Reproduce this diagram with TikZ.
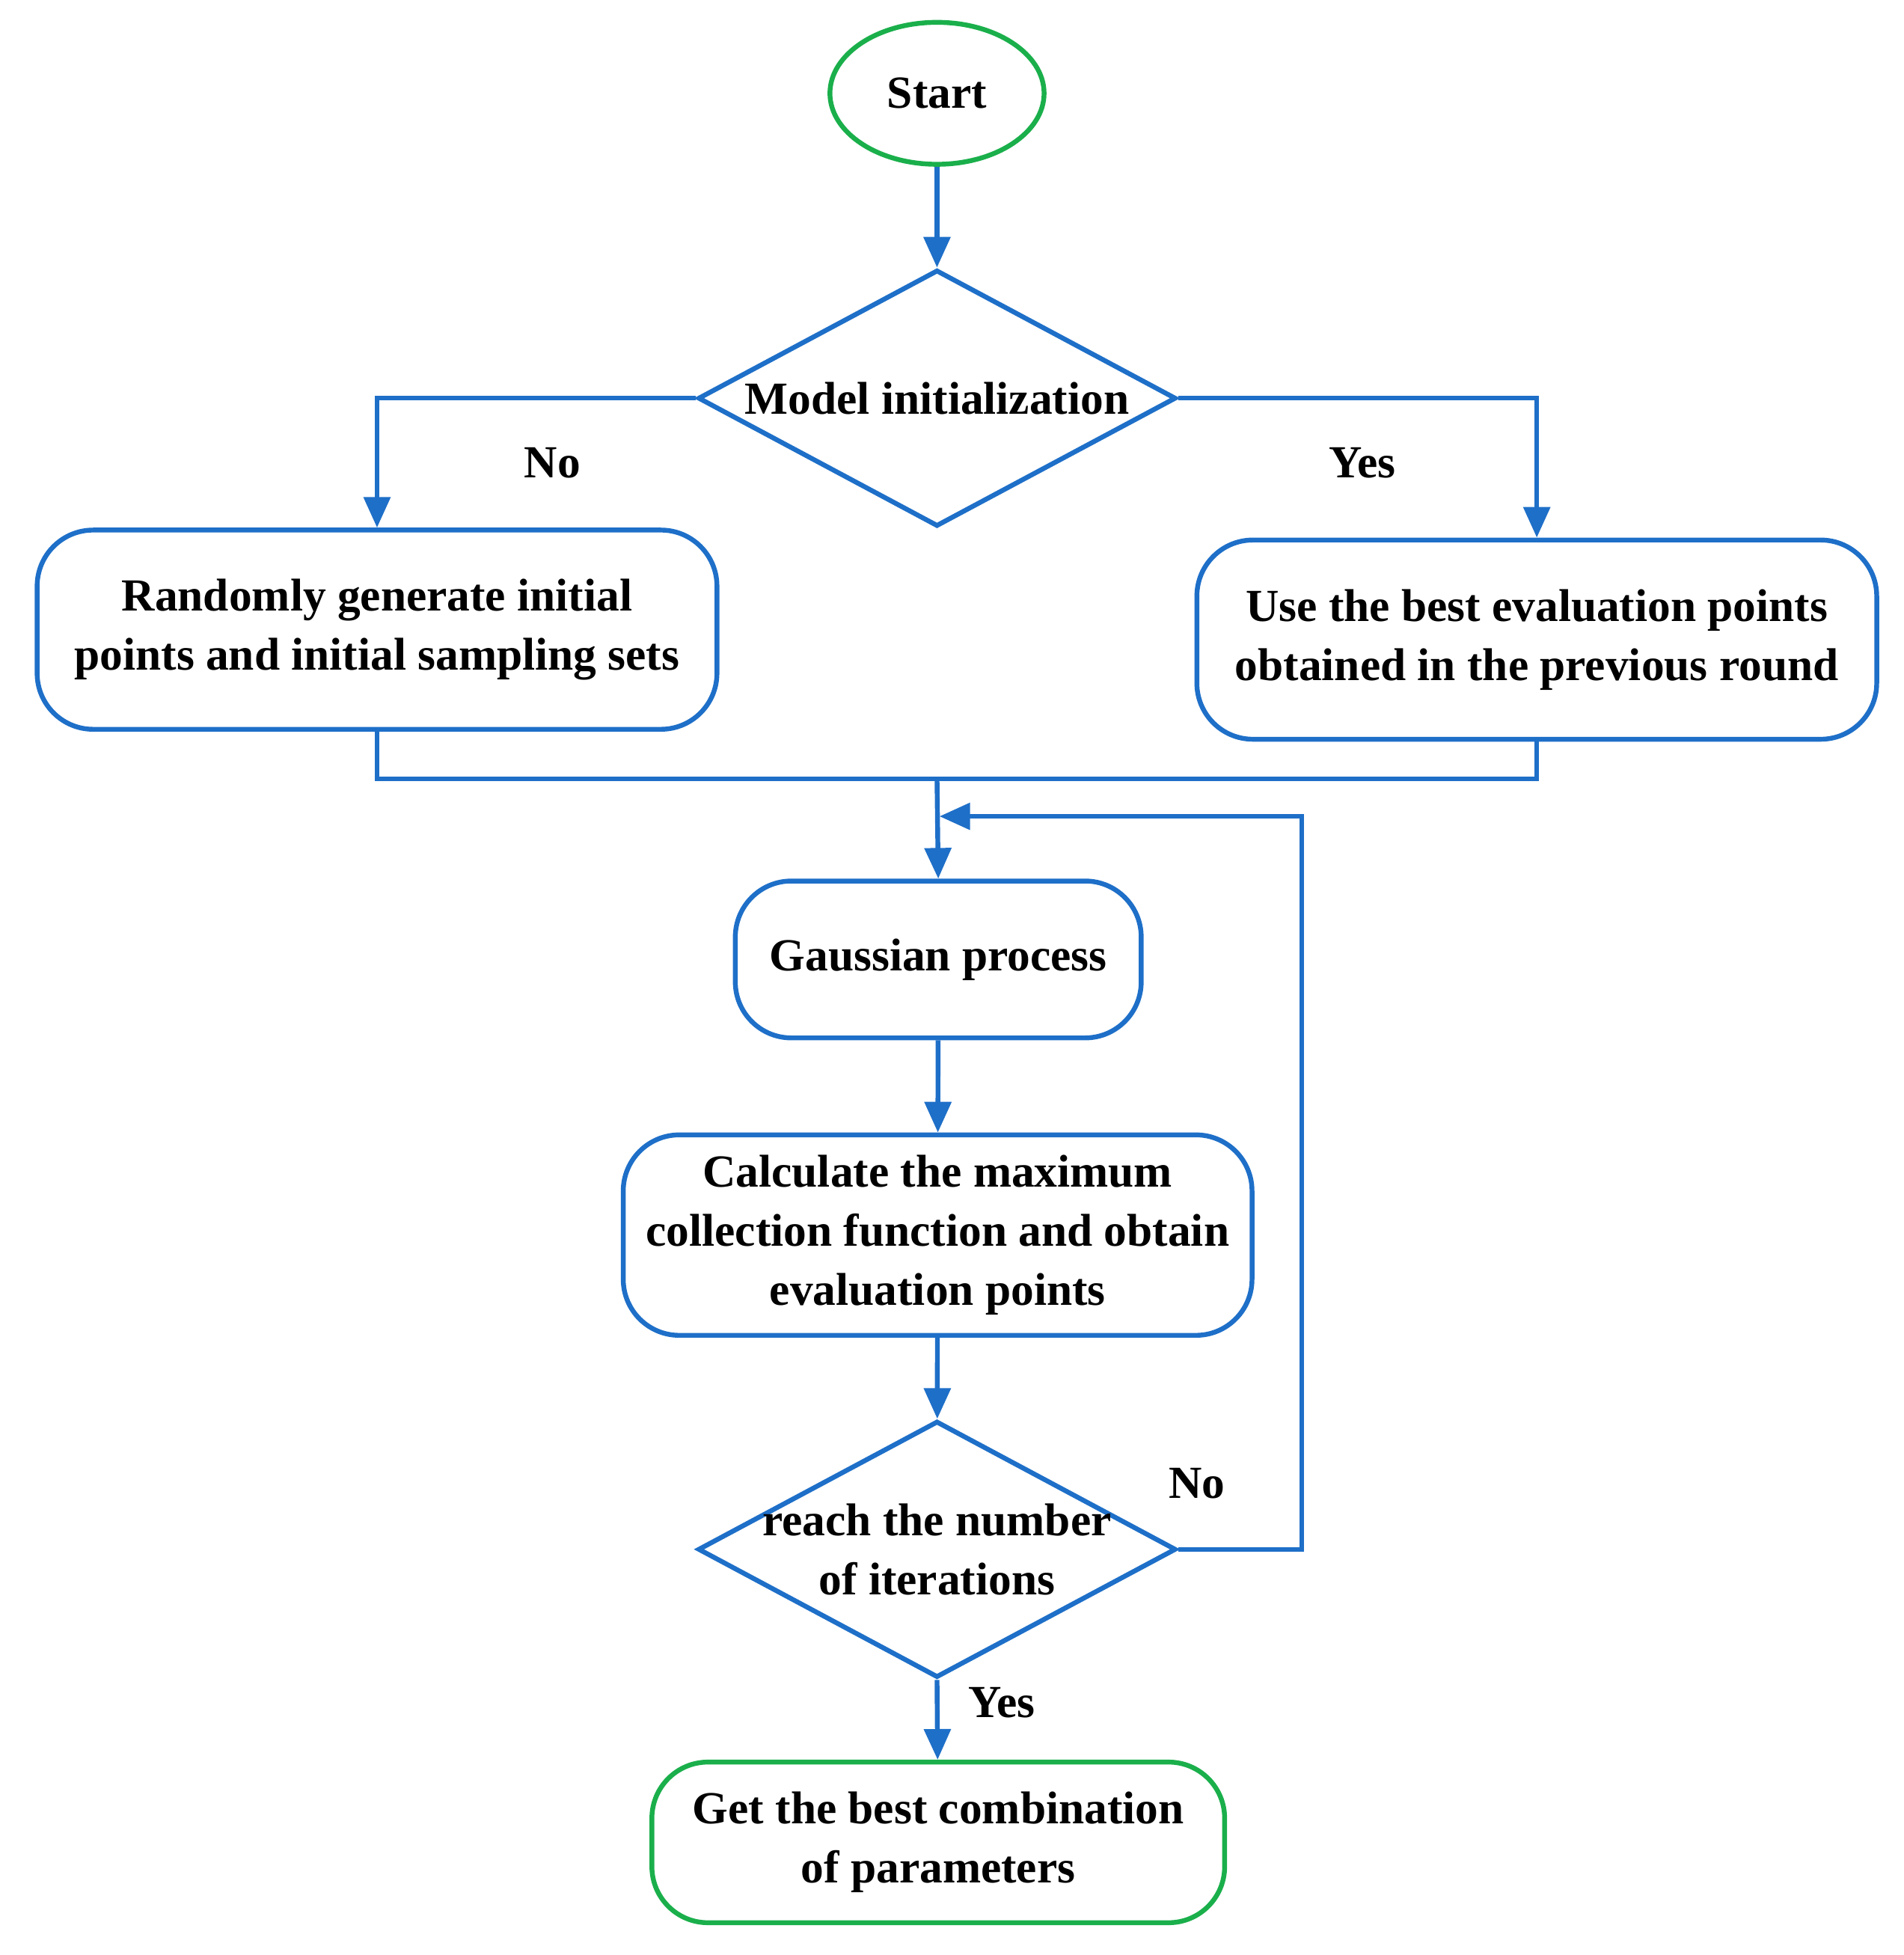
\documentclass[tikz,border=0pt]{standalone}
\usepackage{fontspec}
\setmainfont{Liberation Serif}
\usetikzlibrary{shapes.geometric,arrows.meta}
\definecolor{bl}{HTML}{1E6FC8}
\definecolor{gr}{HTML}{1AAF4B}
\begin{document}
\begin{tikzpicture}[x=0.01cm,y=-0.01cm,
 line width=1.1pt,
 every node/.style={font=\fontsize{10.5pt}{13.5pt}\selectfont\bfseries, align=center},
 box/.style={draw=bl, rounded corners=0.45cm, inner sep=0},
 gbox/.style={draw=gr, rounded corners=0.45cm, inner sep=0},
 dia/.style={draw=bl, diamond, inner sep=0, minimum width=3.84cm, minimum height=2.06cm},
 con/.style={draw=bl, -{Triangle[length=7pt,width=6pt]}},
 ln/.style={draw=bl}]
\useasboundingbox (0,0) rectangle (1530,1571);
\node[draw=gr, ellipse, minimum width=1.72cm, minimum height=1.14cm, inner sep=0] (start) at (753,75) {Start};
\node[dia] (d1) at (753,320) {};
\node at (d1) {Model initialization};
\node[box, minimum width=5.46cm, minimum height=1.6cm] (bl) at (303,506) {Randomly generate initial\\points and initial sampling sets};
\node[box, minimum width=5.46cm, minimum height=1.6cm] (br) at (1235,514) {Use the best evaluation points\\obtained in the previous round};
\node[box, minimum width=3.26cm, minimum height=1.26cm] (gp) at (754,771) {Gaussian process};
\node[box, minimum width=5.05cm, minimum height=1.61cm] (calc) at (753.5,992.5) {Calculate the maximum\\collection function and obtain\\evaluation points};
\node[dia] (d2) at (753,1245) {};
\node at (753,1245) {reach the number\\of iterations};
\node[gbox, minimum width=4.6cm, minimum height=1.29cm] (fin) at (754,1480.5) {Get the best combination\\of parameters};
\coordinate (m) at (753,626);
\coordinate (lp) at (755,656);
\coordinate (rc) at (1046,656);
\draw[con] (start) -- (d1);
\draw[con] (d1.west) -| (bl.north);
\draw[con] (d1.east) -| (br.north);
\draw[ln] (bl.south) |- (m);
\draw[ln] (br.south) |- (m);
\draw[con] (m) -- (gp.north);
\draw[con] (gp) -- (calc);
\draw[con] (calc) -- (d2);
\draw[con] (d2.south) -- (fin);
\draw[con] (d2.east) -| (rc) -- (lp);
\node at (444,372) {No};
\node at (1095,372) {Yes};
\node at (962,1192) {No};
\node at (805,1368) {Yes};
\end{tikzpicture}
\end{document}
